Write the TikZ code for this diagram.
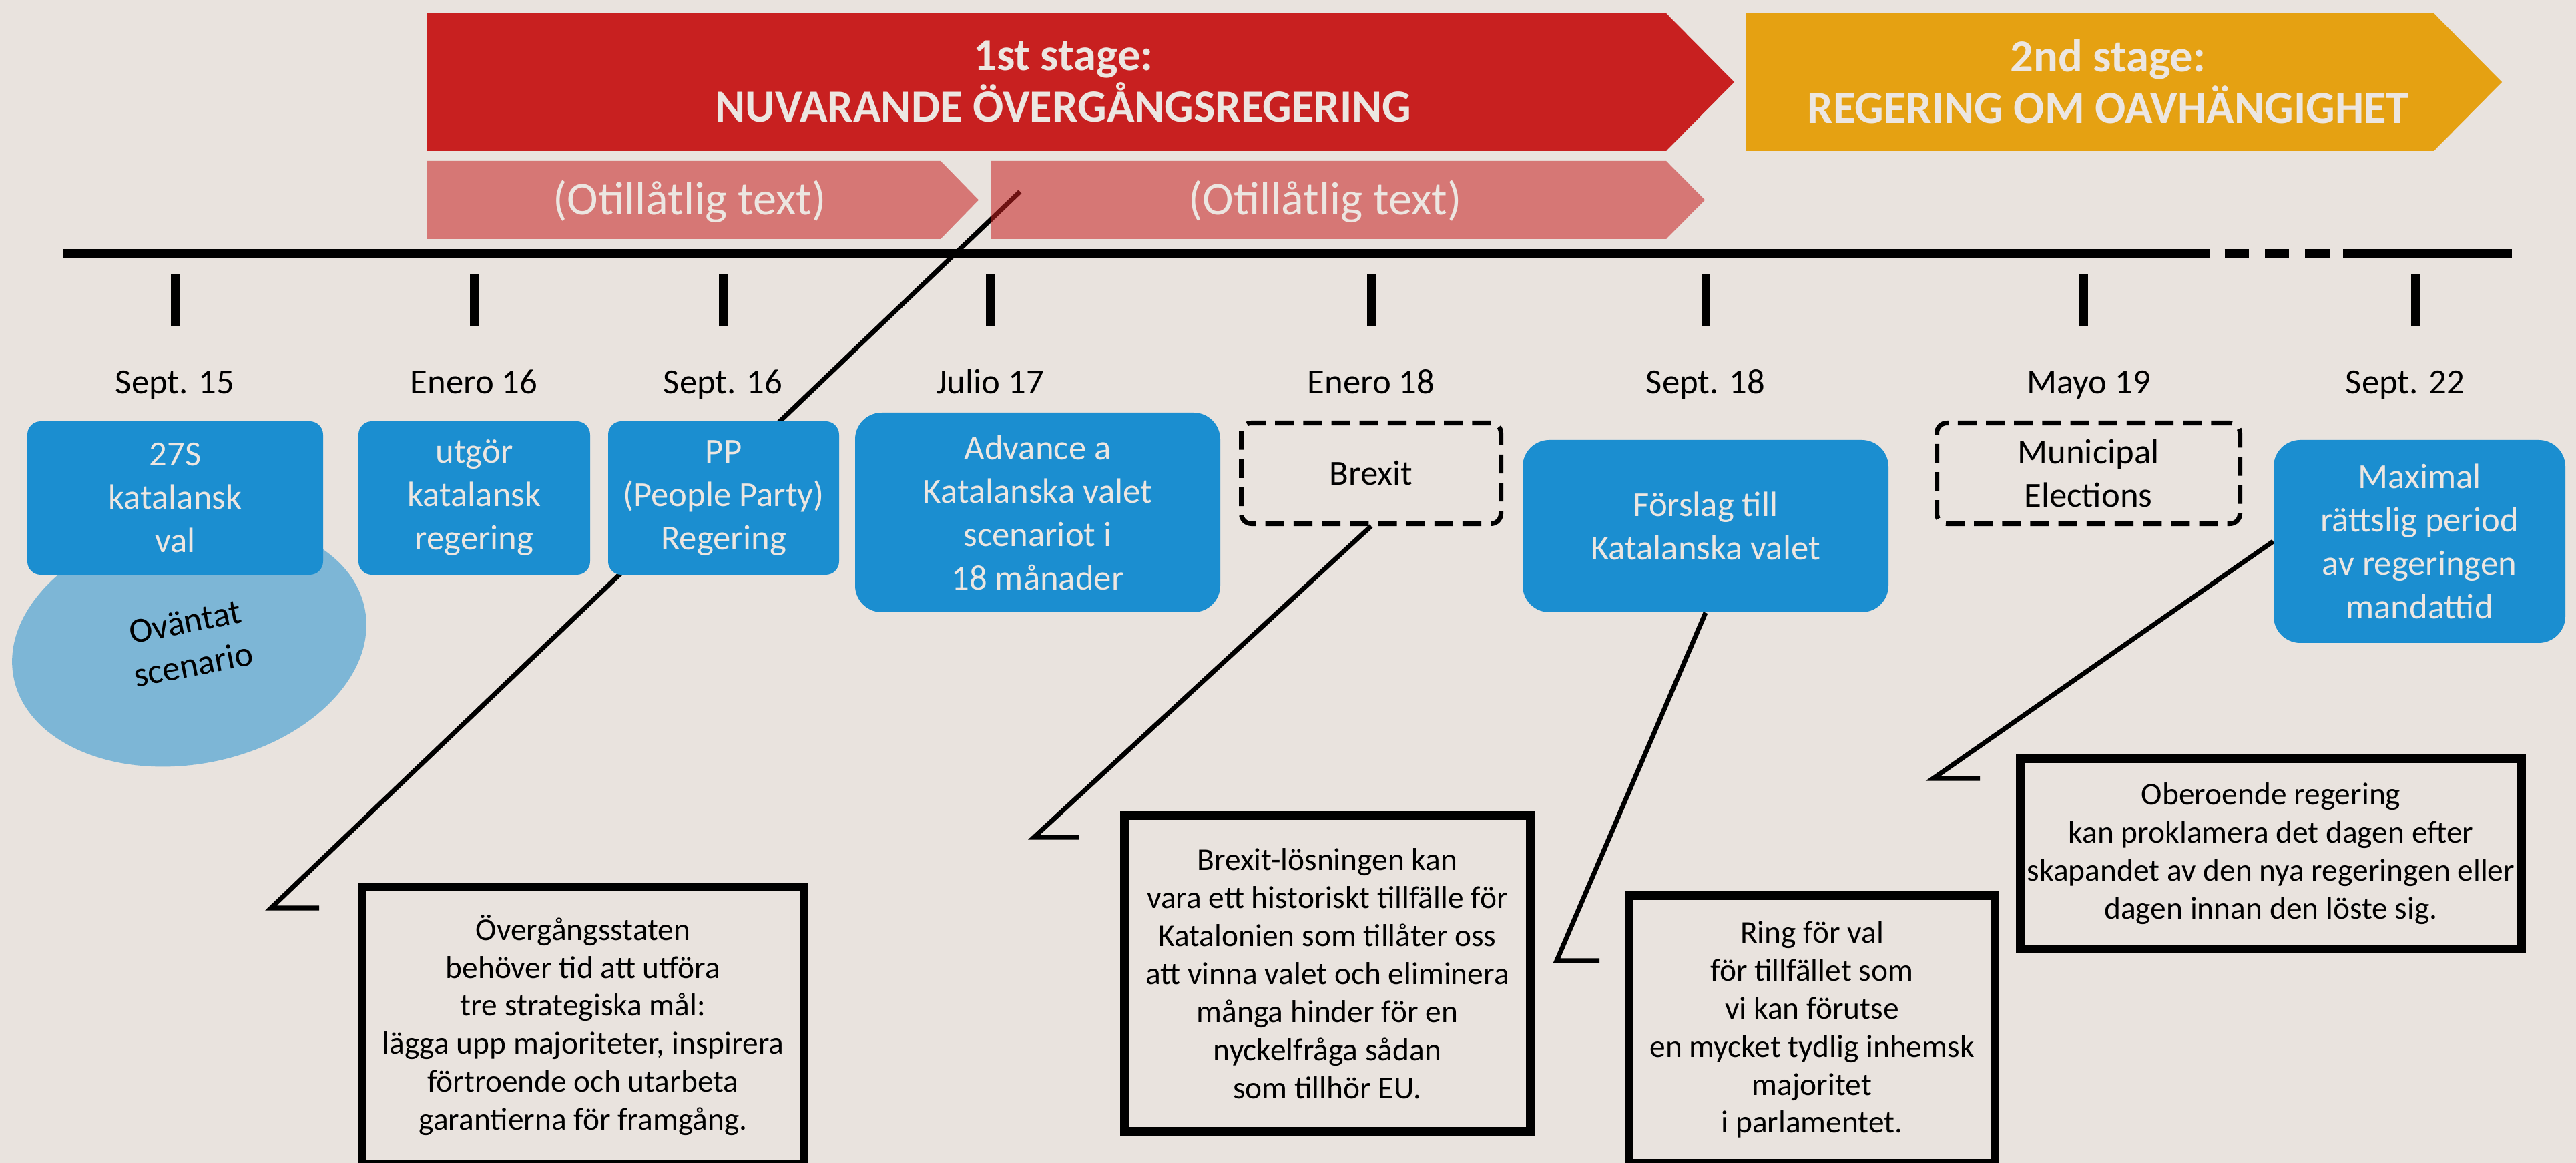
\documentclass[tikz,border=0pt]{standalone}
\usepackage{fontspec}
\setmainfont{Carlito}
\usetikzlibrary{positioning,shapes.geometric}

\definecolor{paper}{RGB}{233,227,222}
\definecolor{stagered}{RGB}{200,32,32}
\definecolor{stageorange}{RGB}{229,161,18}
\definecolor{eventblue}{RGB}{27,142,208}
\definecolor{lighttext}{RGB}{236,230,225}

\tikzset{
  stagetext/.style={text=lighttext, align=center, font=\bfseries\fontsize{19.5}{22}\selectfont},
  subtext/.style={text=lighttext, font=\fontsize{20}{23}\selectfont},
  timetick/.style={line width=3.7pt},
  datelabel/.style={anchor=base, font=\fontsize{15}{18}\selectfont},
  eventbox/.style={fill=eventblue, text=lighttext, align=center, inner sep=0pt,
    rounded corners=0.2cm, font=\fontsize{15}{18.5}\selectfont},
  biground/.style={rounded corners=0.4cm},
  dashedbox/.style={draw, line width=2pt, dash pattern=on 8pt off 4pt, rounded corners=0.15cm,
    align=center, inner sep=0pt, font=\fontsize{15}{18.5}\selectfont},
  notebox/.style={draw, line width=3.5pt, align=center, inner sep=0pt,
    font=\fontsize{13.5}{16.2}\selectfont},
  callout/.style={line width=2pt}
}

\begin{document}
\begin{tikzpicture}

        \useasboundingbox (0,0) rectangle (38.59,-17.42);
        \fill[paper] (0,0) rectangle (38.59,-17.42);

        % stages
        \fill[stagered] (6.39,-0.20) -- (24.96,-0.20) -- (25.98,-1.23) -- (24.96,-2.26) -- (6.39,-2.26) -- cycle;
        \node[stagetext] (stage1) at (15.93,-1.22) {1st stage:\\NUVARANDE ÖVERGÅNGSREGERING};

        \fill[stageorange] (26.16,-0.20) -- (36.46,-0.20) -- (37.48,-1.23) -- (36.46,-2.26) -- (26.16,-2.26) -- cycle;
        \node[stagetext] (stage2) at (31.58,-1.22) {2nd stage:\\REGERING OM OAVHÄNGIGHET};

        % first callout sits under the pink arrows
        \coordinate (c1top) at (15.28,-2.87);
        \coordinate (c1knee) at (4.06,-13.60);
        \coordinate (c1foot) at (4.78,-13.60);
        \draw[callout] (c1top) -- (c1knee) -- (c1foot);

        \fill[stagered, opacity=0.55] (6.39,-2.41) -- (14.09,-2.41) -- (14.66,-2.995) -- (14.09,-3.58) -- (6.39,-3.58) -- cycle;
        \node[subtext] (sub1) at (10.33,-3.02) {(Otillåtlig text)};

        \fill[stagered, opacity=0.55] (14.84,-2.41) -- (24.96,-2.41) -- (25.54,-2.995) -- (24.96,-3.58) -- (14.84,-3.58) -- cycle;
        \node[subtext] (sub2) at (19.85,-3.02) {(Otillåtlig text)};

        % timeline
        \draw[line width=3.7pt] (0.95,-3.80) -- (33.11,-3.80);
        \draw[line width=3.7pt] (33.325,-3.80) -- (33.69,-3.80);
        \draw[line width=3.7pt] (33.93,-3.80) -- (34.29,-3.80);
        \draw[line width=3.7pt] (34.53,-3.80) -- (34.90,-3.80);
        \draw[line width=3.7pt] (35.10,-3.80) -- (37.63,-3.80);

        \draw[timetick] (2.62,-4.11) -- (2.62,-4.88);
        \draw[timetick] (7.10,-4.11) -- (7.10,-4.88);
        \draw[timetick] (10.83,-4.11) -- (10.83,-4.88);
        \draw[timetick] (14.83,-4.11) -- (14.83,-4.88);
        \draw[timetick] (20.54,-4.11) -- (20.54,-4.88);
        \draw[timetick] (25.55,-4.11) -- (25.55,-4.88);
        \draw[timetick] (31.21,-4.11) -- (31.21,-4.88);
        \draw[timetick] (36.18,-4.11) -- (36.18,-4.88);

        \node[datelabel] (d1) at (2.62,-5.90) {Sept. 15};
        \node[datelabel] (d2) at (7.10,-5.90) {Enero 16};
        \node[datelabel] (d3) at (10.83,-5.90) {Sept. 16};
        \node[datelabel] (d4) at (14.83,-5.90) {Julio 17};
        \node[datelabel] (d5) at (20.54,-5.90) {Enero 18};
        \node[datelabel] (d6) at (25.55,-5.90) {Sept. 18};
        \node[datelabel] (d7) at (31.29,-5.90) {Mayo 19};
        \node[datelabel] (d8) at (36.03,-5.90) {Sept. 22};

        % events
        \node[ellipse, fill=eventblue, fill opacity=0.52, text opacity=1, minimum width=5.36cm, minimum height=3.62cm,
          inner sep=0pt, rotate=11, align=center, font=\fontsize{15}{18.5}\selectfont] (unexpected) at (2.835,-9.635) {Oväntat\\scenario};

        \node[eventbox, minimum width=4.43cm, minimum height=2.30cm] (e27s) at (2.625,-7.46) {27S\\katalansk\\val};
        \node[eventbox, minimum width=3.47cm, minimum height=2.30cm] (egov) at (7.105,-7.46) {utgör\\katalansk\\regering};
        \node[eventbox, minimum width=3.46cm, minimum height=2.30cm] (epp) at (10.84,-7.46) {PP\\(People Party)\\Regering};
        \node[eventbox, biground, minimum width=5.47cm, minimum height=2.99cm] (eadv) at (15.545,-7.675) {Advance a\\Katalanska valet\\scenariot i\\18 månader};
        \node[dashedbox, minimum width=3.89cm, minimum height=1.51cm] (brexit) at (20.54,-7.09) {Brexit};
        \node[eventbox, biground, minimum width=5.48cm, minimum height=2.58cm] (eprop) at (25.55,-7.88) {Förslag till\\Katalanska valet};
        \node[dashedbox, minimum width=4.54cm, minimum height=1.51cm] (munic) at (31.285,-7.09) {Municipal\\Elections};
        \node[eventbox, biground, minimum width=4.37cm, minimum height=3.04cm] (emax) at (36.245,-8.11) {Maximal\\rättslig period\\av regeringen\\mandattid};

        % notes
        \node[notebox, minimum width=6.61cm, minimum height=4.15cm] (n1) at (8.735,-15.355)
          {Övergångsstaten\\behöver tid att utföra\\tre strategiska mål:\\lägga upp majoriteter, inspirera\\förtroende och utarbeta\\garantierna för framgång.};
        \node[notebox, minimum width=6.08cm, minimum height=4.73cm] (n2) at (19.885,-14.58)
          {Brexit-lösningen kan\\vara ett historiskt tillfälle för\\Katalonien som tillåter oss\\att vinna valet och eliminera\\många hinder för en\\nyckelfråga sådan\\som tillhör EU.};
        \node[notebox, minimum width=5.48cm, minimum height=4.01cm] (n3) at (27.145,-15.42)
          {Ring för val\\för tillfället som\\vi kan förutse\\en mycket tydlig inhemsk\\majoritet\\i parlamentet.};
        \node[notebox, minimum width=7.51cm, minimum height=2.85cm] (n4) at (34.02,-12.79)
          {Oberoende regering\\kan proklamera det dagen efter\\skapandet av den nya regeringen eller\\dagen innan den löste sig.};

        % callouts
        \coordinate (c2knee) at (15.49,-12.54);
        \coordinate (c2foot) at (16.16,-12.54);
        \draw[callout] (brexit.south) -- (c2knee) -- (c2foot);

        \coordinate (c3knee) at (23.32,-14.39);
        \coordinate (c3foot) at (23.96,-14.39);
        \draw[callout] (eprop.south) -- (c3knee) -- (c3foot);

        \coordinate (c4knee) at (28.96,-11.66);
        \coordinate (c4foot) at (29.66,-11.66);
        \draw[callout] (emax.west) -- (c4knee) -- (c4foot);

    \end{tikzpicture}
\end{document}
